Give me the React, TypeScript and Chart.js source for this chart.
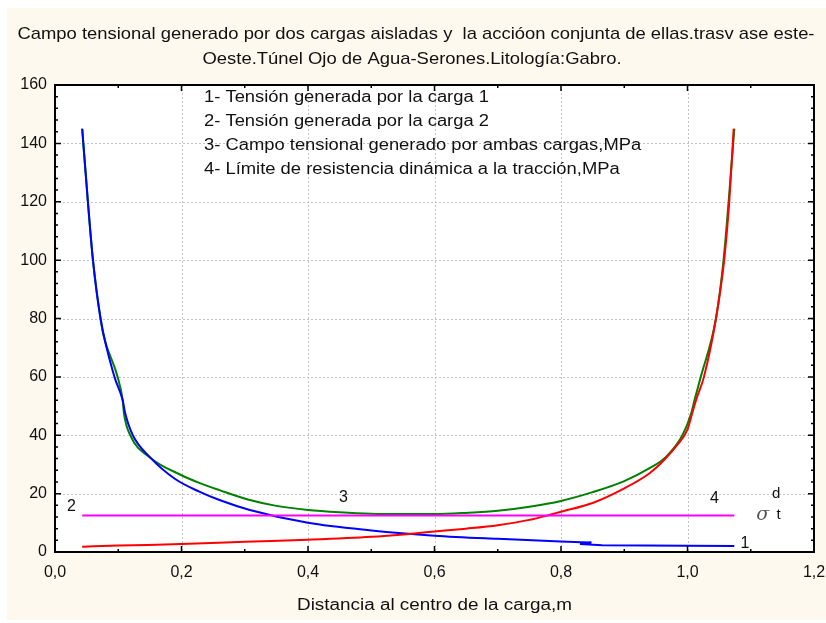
import React, { useEffect, useRef } from 'react';
import { Chart, registerables } from 'chart.js';

Chart.register(...registerables);

// ---------- text ----------
const TITLE_LINE_1 = 'Campo tensional generado por dos cargas aisladas y  la accióon conjunta de ellas.trasv ase este-';
const TITLE_LINE_2 = 'Oeste.Túnel Ojo de Agua-Serones.Litología:Gabro.';
const X_TITLE = 'Distancia al centro de la carga,m';
const LEGEND_LINES = [
  '1- Tensión generada por la carga 1',
  '2- Tensión generada por la carga 2',
  '3- Campo tensional generado por ambas cargas,MPa',
  '4- Límite de resistencia dinámica a la tracción,MPa',
];

// ---------- axes ----------
const X_MIN = 0;
const X_MAX = 1.2;
const X_STEP = 0.2;
const Y_MIN = 0;
const Y_MAX = 160;
const Y_STEP = 20;

// ---------- series 1: tension by load 1 (blue) ----------
const carga1X = [0.043, 0.052, 0.060, 0.072, 0.094, 0.107, 0.111, 0.123, 0.150, 0.190, 0.229, 0.260, 0.308, 0.400, 0.500, 0.600, 0.700, 0.800, 0.848];
const carga1Y = [145, 120, 100, 80, 60, 52, 47.5, 40, 32.5, 25.0, 20.6, 17.8, 14.4, 10.0, 7.4, 5.6, 4.5, 3.6, 3.25];
const carga1ColaX = [0.848, 0.830, 0.865, 1.000, 1.074];
const carga1ColaY = [3.25, 2.7, 2.35, 2.15, 2.05];

// ---------- series 2: tension by load 2 (red) ----------
const carga2X = [0.043, 0.100, 0.200, 0.300, 0.400, 0.500, 0.560, 0.600, 0.650, 0.700, 0.750, 0.780, 0.800, 0.850, 0.900, 0.940, 0.963, 0.985, 1.000, 1.008, 1.015, 1.026, 1.045, 1.058, 1.066, 1.073];
const carga2Y = [1.8, 2.2, 2.7, 3.5, 4.2, 5.2, 6.2, 7.0, 8.0, 9.2, 11.0, 12.6, 13.8, 16.8, 21.8, 27.0, 31.5, 37, 42, 48, 53, 60, 80, 100, 120, 145];

// ---------- series 3: combined field (green) ----------
const conjuntaX = [0.043, 0.052, 0.060, 0.072, 0.077, 0.099, 0.107, 0.109, 0.119, 0.150, 0.200, 0.229, 0.260, 0.308, 0.350, 0.400, 0.450, 0.500, 0.550, 0.600, 0.650, 0.700, 0.750, 0.800, 0.850, 0.900, 0.940, 0.966, 0.992, 1.006, 1.011, 1.021, 1.045, 1.057, 1.065, 1.074];
const conjuntaY = [145, 120, 100, 80, 74, 60, 52, 47.5, 40, 32.4, 26.3, 23.6, 21.2, 17.8, 15.8, 14.4, 13.6, 13.1, 13.0, 13.0, 13.4, 14.1, 15.5, 17.5, 20.5, 24.3, 28.7, 32.6, 40, 47.6, 52, 60, 80, 100, 120, 145];

// ---------- series 4: dynamic tensile strength limit (magenta) ----------
const limiteX = [0.043, 1.074];
const limiteY = [12.5, 12.5];

// ---------- curve labels (data coordinates) ----------
const curveLabelText = ['2', '3', '4', '1'];
const curveLabelX = [0.026, 0.456, 1.0425, 1.091];
const curveLabelY = [15.5, 18.7, 18.4, 3.0];

const pts = (xs: number[], ys: number[]) => xs.map((x, i) => ({ x, y: ys[i] }));
const fmt = (v: number) => v.toFixed(1).replace('.', ',');
const fmtInt = (v: number) => String(Math.round(v));

const FONT = '"Liberation Sans", Arial, sans-serif';

function fitText(ctx: CanvasRenderingContext2D, text: string, cx: number, cy: number, width: number, font: string) {
  ctx.save();
  ctx.font = font;
  ctx.textAlign = 'center';
  ctx.textBaseline = 'middle';
  const w = ctx.measureText(text).width;
  const s = width / w;
  ctx.translate(cx, cy);
  ctx.scale(s, 1);
  ctx.fillText(text, 0, 0);
  ctx.restore();
}

const decorPlugin = {
  id: 'decor',
  beforeDraw(chart: any) {
    const { ctx, chartArea: a, width, height } = chart;
    ctx.save();
    ctx.fillStyle = '#ffffff';
    ctx.fillRect(0, 0, width, height);
    ctx.fillStyle = '#FDF9EE';
    ctx.fillRect(7, 8, width - 7, 612);
    ctx.fillStyle = '#ffffff';
    ctx.fillRect(a.left, a.top, a.right - a.left, a.bottom - a.top);

    const xs = chart.scales.x;
    const ys = chart.scales.y;
    ctx.strokeStyle = '#c4c4c4';
    ctx.lineWidth = 1;
    ctx.setLineDash([2, 2]);
    for (let v = X_MIN + X_STEP; v < X_MAX - 1e-9; v += X_STEP) {
      const px = Math.round(xs.getPixelForValue(v)) + 0.5;
      ctx.beginPath();
      ctx.moveTo(px, a.top);
      ctx.lineTo(px, a.bottom);
      ctx.stroke();
    }
    for (let v = Y_MIN + Y_STEP; v < Y_MAX - 1e-9; v += Y_STEP) {
      const py = Math.round(ys.getPixelForValue(v)) + 0.5;
      ctx.beginPath();
      ctx.moveTo(a.left, py);
      ctx.lineTo(a.right, py);
      ctx.stroke();
    }
    ctx.restore();
  },
  afterDraw(chart: any) {
    const { ctx, chartArea: a } = chart;
    const xs = chart.scales.x;
    const ys = chart.scales.y;
    ctx.save();
    ctx.setLineDash([]);
    ctx.strokeStyle = '#000';
    ctx.lineWidth = 1.5;
    const xMinor = X_STEP / 2;
    for (let i = 0; X_MIN + i * xMinor <= X_MAX + 1e-9; i++) {
      const v = X_MIN + i * xMinor;
      const len = i % 2 === 0 ? 6 : 3;
      const px = xs.getPixelForValue(v);
      ctx.beginPath();
      ctx.moveTo(px, a.bottom);
      ctx.lineTo(px, a.bottom - len);
      ctx.moveTo(px, a.top);
      ctx.lineTo(px, a.top + len);
      ctx.stroke();
    }
    const yMinor = Y_STEP / 5;
    for (let i = 0; Y_MIN + i * yMinor <= Y_MAX + 1e-9; i++) {
      const v = Y_MIN + i * yMinor;
      const len = i % 5 === 0 ? 6 : 3;
      const py = ys.getPixelForValue(v);
      ctx.beginPath();
      ctx.moveTo(a.left, py);
      ctx.lineTo(a.left + len, py);
      ctx.moveTo(a.right, py);
      ctx.lineTo(a.right - len, py);
      ctx.stroke();
    }
    ctx.lineWidth = 2;
    ctx.strokeRect(a.left, a.top, a.right - a.left, a.bottom - a.top);

    // titles
    ctx.fillStyle = '#111';
    fitText(ctx, TITLE_LINE_1, 416, 34, 797, `17px ${FONT}`);
    fitText(ctx, TITLE_LINE_2, 412, 59, 419, `17px ${FONT}`);
    fitText(ctx, X_TITLE, (a.left + a.right) / 2, 606, 275, `16px ${FONT}`);

    // legend text block (uniform horizontal stretch)
    const legendFont = `16px ${FONT}`;
    ctx.font = legendFont;
    const stretch = 285 / ctx.measureText(LEGEND_LINES[0]).width;
    ctx.textAlign = 'left';
    ctx.textBaseline = 'middle';
    LEGEND_LINES.forEach((t, i) => {
      ctx.save();
      ctx.translate(204, 98 + i * 24);
      ctx.scale(stretch, 1);
      ctx.fillText(t, 0, 0);
      ctx.restore();
    });

    // curve labels
    ctx.font = `16px ${FONT}`;
    ctx.textAlign = 'center';
    curveLabelText.forEach((t, i) => {
      ctx.fillText(t, xs.getPixelForValue(curveLabelX[i]), ys.getPixelForValue(curveLabelY[i]));
    });
    // sigma_t^d
    ctx.fillStyle = '#555';
    ctx.font = `italic 19px "DejaVu Serif", serif`;
    ctx.fillText('σ', xs.getPixelForValue(1.119), ys.getPixelForValue(12.6));
    ctx.fillStyle = '#111';
    ctx.font = `15px ${FONT}`;
    ctx.fillText('t', xs.getPixelForValue(1.144), ys.getPixelForValue(12.8));
    ctx.fillText('d', xs.getPixelForValue(1.140), ys.getPixelForValue(19.9));
    ctx.restore();
  },
};

export default function App() {
  const ref = useRef<HTMLCanvasElement | null>(null);
  useEffect(() => {
    if (!ref.current) return;
    const line = (data: any, color: string, mono = true) => ({
      data,
      borderColor: color,
      backgroundColor: color,
      borderWidth: 2,
      pointRadius: 0,
      fill: false,
      tension: mono ? 0.4 : 0,
      cubicInterpolationMode: mono ? 'monotone' : 'default',
    });
    const chart = new Chart(ref.current, {
      type: 'line',
      data: {
        datasets: [
          line(pts(limiteX, limiteY), '#FF00FF', false),
          line(pts(carga2X, carga2Y), '#FF0000'),
          line(pts(carga1X, carga1Y), '#0000FF'),
          line(pts(carga1ColaX, carga1ColaY), '#0000FF', false),
          line(pts(conjuntaX, conjuntaY), '#008000'),
        ] as any,
      },
      options: {
        animation: false,
        responsive: false,
        devicePixelRatio: 1,
        layout: { padding: { left: 0, right: 12, top: 85, bottom: 0 } },
        plugins: { legend: { display: false }, title: { display: false }, tooltip: { enabled: false } },
        scales: {
          x: {
            type: 'linear',
            min: X_MIN,
            max: X_MAX,
            ticks: {
              stepSize: X_STEP,
              callback: (v: any) => fmt(Number(v)),
              font: { family: FONT, size: 16 },
              color: '#111',
              padding: 11,
              maxRotation: 0,
            },
            grid: { display: false, drawTicks: false },
            border: { display: false },
            afterFit: (s: any) => { s.height = 71; s.paddingLeft = 0; s.paddingRight = 0; },
          },
          y: {
            type: 'linear',
            min: Y_MIN,
            max: Y_MAX,
            ticks: {
              stepSize: Y_STEP,
              callback: (v: any) => fmtInt(Number(v)),
              font: { family: FONT, size: 16 },
              color: '#111',
              padding: 8,
            },
            grid: { display: false, drawTicks: false },
            border: { display: false },
            afterFit: (s: any) => { s.width = 55; s.paddingTop = 0; s.paddingBottom = 0; },
          },
        },
      } as any,
      plugins: [decorPlugin],
    });
    return () => chart.destroy();
  }, []);
  return (
    <div style={{ position: 'fixed', left: 0, top: 0, width: 826, height: 623 }}>
      <canvas ref={ref} width={826} height={623} style={{ display: 'block', width: 826, height: 623 }} />
    </div>
  );
}
